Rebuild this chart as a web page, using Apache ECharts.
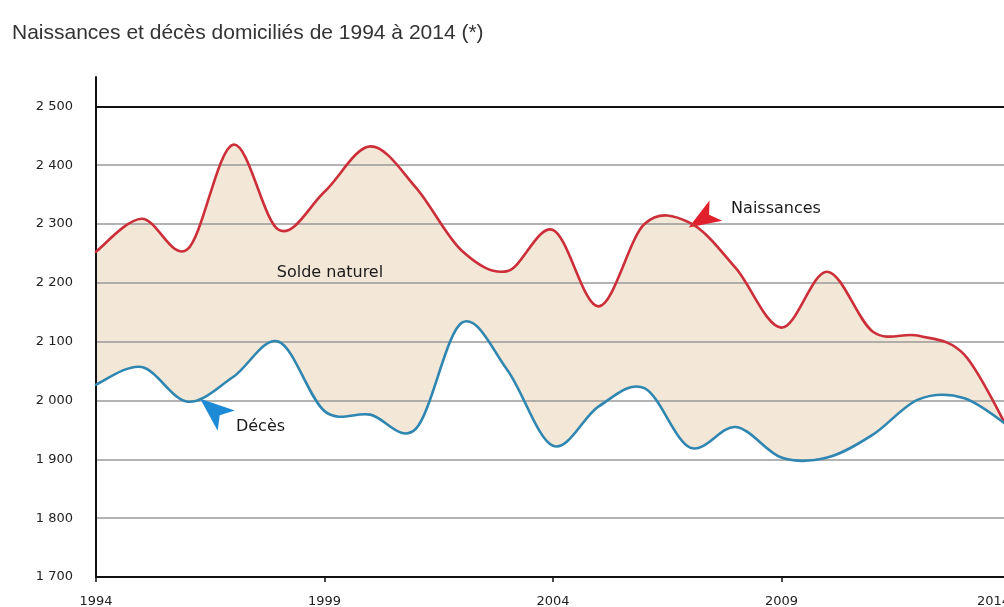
<!DOCTYPE html>
<html>
<head>
<meta charset="utf-8">
<script src="https://cdn.jsdelivr.net/npm/echarts@6/dist/echarts.min.js"></script>
<style>
  html, body { margin: 0; padding: 0; background: #fff; }
  #main { width: 1004px; height: 607px; }
</style>
</head>
<body>
<div id="main"></div>
<script>
// données
const years = [1994, 1995, 1996, 1997, 1998, 1999, 2000, 2001, 2002, 2003, 2004,
               2005, 2006, 2007, 2008, 2009, 2010, 2011, 2012, 2013, 2014];
const naissances = [2253, 2309, 2257, 2435, 2290, 2355, 2432, 2362, 2255, 2220, 2290,
                    2160, 2300, 2302, 2225, 2124, 2219, 2117, 2110, 2078, 1945];
const deces = [2027, 2057, 1998, 2040, 2100, 1982, 1976, 1952, 2132, 2052, 1923,
               1990, 2021, 1920, 1955, 1903, 1903, 1942, 2002, 2004, 1955];
const yTicks = [1700, 2500, 100];   // min, max affiché, pas
const xTicks = [1994, 2014, 5];

// annotations (coordonnées en année / valeur)
const labelSolde = [1999.12, 2217];
const labelNaiss = [2008.88, 2326];
const labelDeces = [1997.6, 1955];
const arrowNaiss = [2006.97, 2294];
const arrowDeces = [1996.28, 2003];

const RED = '#cc2f3a';
const BLUE = '#2f86b0';
const TAN = '#f3e7d8';
const FONT = 'DejaVu Sans';

const fmtY = (v) => {
  if (v > yTicks[1]) { return ''; }
  const s = String(v);
  return s.slice(0, s.length - 3) + ' ' + s.slice(-3);
};

// courbe lissée type Excel (catmull-rom -> bézier)
const bezierSegs = (pts) => {
  const segs = [];
  for (let i = 0; i < pts.length - 1; i++) {
    const p0 = pts[Math.max(i - 1, 0)];
    const p1 = pts[i];
    const p2 = pts[i + 1];
    const p3 = pts[Math.min(i + 2, pts.length - 1)];
    segs.push({
      from: p1,
      to: p2,
      c1: [p1[0] + (p2[0] - p0[0]) / 6, p1[1] + (p2[1] - p0[1]) / 6],
      c2: [p2[0] - (p3[0] - p1[0]) / 6, p2[1] - (p3[1] - p1[1]) / 6],
    });
  }
  return segs;
};
const pathForward = (segs) => {
  let d = 'M' + segs[0].from[0] + ',' + segs[0].from[1];
  segs.forEach((s) => {
    d += 'C' + s.c1[0] + ',' + s.c1[1] + ',' + s.c2[0] + ',' + s.c2[1] + ',' + s.to[0] + ',' + s.to[1];
  });
  return d;
};
const pathBackward = (segs) => {
  let d = '';
  for (let i = segs.length - 1; i >= 0; i--) {
    const s = segs[i];
    d += 'C' + s.c2[0] + ',' + s.c2[1] + ',' + s.c1[0] + ',' + s.c1[1] + ',' + s.from[0] + ',' + s.from[1];
  }
  return d;
};

const lineRender = (color) => (params, api) => {
  if (params.dataIndex !== 0) { return null; }
  const pts = years.map((y, k) => api.coord([api.value(0, k), api.value(1, k)]));
  return {
    type: 'path',
    shape: { pathData: pathForward(bezierSegs(pts)) },
    style: { fill: 'none', stroke: color, lineWidth: 2.6, lineJoin: 'round', lineCap: 'round' },
  };
};

const fillRender = (params, api) => {
  if (params.dataIndex !== 0) { return null; }
  const top = years.map((y, k) => api.coord([api.value(0, k), api.value(1, k)]));
  const bot = years.map((y, k) => api.coord([api.value(0, k), api.value(2, k)]));
  const segsB = bezierSegs(bot);
  const last = bot[bot.length - 1];
  const d = pathForward(bezierSegs(top)) + 'L' + last[0] + ',' + last[1] + pathBackward(segsB) + 'Z';
  return {
    type: 'path',
    shape: { pathData: d },
    style: { fill: TAN, stroke: 'none' },
  };
};

const chart = echarts.init(document.getElementById('main'));

const annotLabel = (coord, text) => ({
  coord: coord,
  symbol: 'rect',
  symbolSize: 0,
  label: {
    show: true,
    position: 'inside',
    formatter: text,
    color: '#1a1a1a',
    fontFamily: FONT,
    fontSize: 16,
  },
});

let option = {
  animation: false,
  title: {
    text: 'Naissances et décès domiciliés de 1994 à 2014 (*)',
    left: 7,
    top: 18,
    textStyle: {
      fontFamily: 'Liberation Sans',
      fontWeight: 'normal',
      fontSize: 21,
      color: '#333',
    },
  },
  grid: {
    left: 96,
    right: -6,
    top: 77,
    bottom: 30,
    outerBoundsMode: 'none',
  },
  xAxis: {
    type: 'value',
    min: xTicks[0],
    max: xTicks[1],
    interval: xTicks[2],
    z: 6,
    axisLine: { lineStyle: { color: '#111', width: 2 } },
    axisTick: { show: true, length: 5, lineStyle: { color: '#111', width: 1.5 } },
    splitLine: { show: false },
    axisLabel: {
      margin: 18,
      color: '#222',
      fontFamily: FONT,
      fontSize: 13,
      alignMaxLabel: 'right',
      formatter: (v) => String(v),
    },
  },
  yAxis: {
    type: 'value',
    min: yTicks[0],
    max: yTicks[1] + 50,
    interval: yTicks[2],
    z: 2,
    axisLine: { show: true, lineStyle: { color: '#111', width: 2 } },
    axisTick: { show: false },
    splitLine: { show: true, showMaxLine: false, lineStyle: { color: '#9a9a9a', width: 1.5 } },
    axisLabel: {
      margin: 23,
      color: '#222',
      fontFamily: FONT,
      fontSize: 13,
      formatter: fmtY,
    },
  },
  series: [
    // solde naturel : aplat beige entre les deux courbes
    {
      type: 'custom',
      name: 'Solde naturel',
      z: 1,
      silent: true,
      data: years.map((y, i) => [y, naissances[i], deces[i]]),
      encode: { x: 0, y: [1, 2] },
      renderItem: fillRender,
    },
    {
      type: 'custom',
      name: 'Naissances',
      z: 5,
      silent: true,
      data: years.map((y, i) => [y, naissances[i]]),
      encode: { x: 0, y: 1 },
      renderItem: lineRender(RED),
    },
    {
      type: 'custom',
      name: 'Décès',
      z: 5,
      silent: true,
      data: years.map((y, i) => [y, deces[i]]),
      encode: { x: 0, y: 1 },
      renderItem: lineRender(BLUE),
    },
    // trait 2 500, flèches et libellés
    {
      type: 'line',
      name: 'annotations',
      data: [],
      z: 6,
      markLine: {
        silent: true,
        symbol: 'none',
        label: { show: false },
        lineStyle: { color: '#111', width: 2, type: 'solid' },
        data: [{ yAxis: yTicks[1] }],
      },
      markPoint: {
        silent: true,
        data: [
          {
            coord: arrowNaiss,
            symbol: 'arrow',
            symbolSize: [18, 32],
            symbolRotate: 122,
            itemStyle: { color: '#e0202c' },
          },
          {
            coord: arrowDeces,
            symbol: 'arrow',
            symbolSize: [20, 34],
            symbolRotate: 50,
            itemStyle: { color: '#1d8ad6' },
          },
          annotLabel(labelNaiss, 'Naissances'),
          annotLabel(labelSolde, 'Solde naturel'),
          annotLabel(labelDeces, 'Décès'),
        ],
      },
    },
  ],
};

chart.setOption(option);
</script>
</body>
</html>
